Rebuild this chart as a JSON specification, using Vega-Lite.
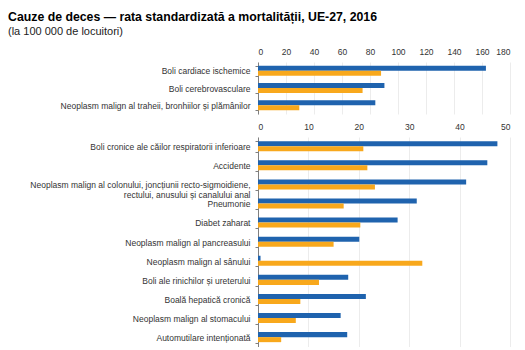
{
  "$schema": "https://vega.github.io/schema/vega-lite/v6.json",
  "padding": {"left": 8, "top": 10, "right": 10, "bottom": 0},
  "title": {
    "text": "Cauze de deces — rata standardizată a mortalității, UE-27, 2016",
    "subtitle": "(la 100 000 de locuitori)",
    "anchor": "start",
    "fontSize": 12.3,
    "fontWeight": "bold",
    "font": "Liberation Sans",
    "color": "#000000",
    "subtitleFontSize": 11,
    "subtitleFont": "Liberation Sans",
    "subtitleColor": "#222222",
    "subtitlePadding": 3,
    "offset": 10
  },
  "datasets": {
    "rows": [
      {"panel": "A", "cause": "Boli cardiace ischemice", "sex": "Bărbați", "value": 162.8},
      {"panel": "A", "cause": "Boli cardiace ischemice", "sex": "Femei", "value": 87.9},
      {"panel": "A", "cause": "Boli cerebrovasculare", "sex": "Bărbați", "value": 90.3},
      {"panel": "A", "cause": "Boli cerebrovasculare", "sex": "Femei", "value": 74.7},
      {"panel": "A", "cause": "Neoplasm malign al traheii, bronhiilor  și plămânilor", "sex": "Bărbați", "value": 83.8},
      {"panel": "A", "cause": "Neoplasm malign al traheii, bronhiilor  și plămânilor", "sex": "Femei", "value": 29.5},
      {"panel": "B", "cause": "Boli cronice ale căilor respiratorii inferioare", "sex": "Bărbați", "value": 47.5},
      {"panel": "B", "cause": "Boli cronice ale căilor respiratorii inferioare", "sex": "Femei", "value": 20.9},
      {"panel": "B", "cause": "Accidente", "sex": "Bărbați", "value": 45.5},
      {"panel": "B", "cause": "Accidente", "sex": "Femei", "value": 21.7},
      {"panel": "B", "cause": "Neoplasm malign al colonului,  joncțiunii recto-sigmoidiene,|rectului, anusului  și canalului  anal", "sex": "Bărbați", "value": 41.3},
      {"panel": "B", "cause": "Neoplasm malign al colonului,  joncțiunii recto-sigmoidiene,|rectului, anusului  și canalului  anal", "sex": "Femei", "value": 23.2},
      {"panel": "B", "cause": "Pneumonie", "sex": "Bărbați", "value": 31.5},
      {"panel": "B", "cause": "Pneumonie", "sex": "Femei", "value": 17.0},
      {"panel": "B", "cause": "Diabet zaharat", "sex": "Bărbați", "value": 27.7},
      {"panel": "B", "cause": "Diabet zaharat", "sex": "Femei", "value": 20.3},
      {"panel": "B", "cause": "Neoplasm malign al pancreasului", "sex": "Bărbați", "value": 20.1},
      {"panel": "B", "cause": "Neoplasm malign al pancreasului", "sex": "Femei", "value": 15.0},
      {"panel": "B", "cause": "Neoplasm malign al sânului", "sex": "Bărbați", "value": 0.5},
      {"panel": "B", "cause": "Neoplasm malign al sânului", "sex": "Femei", "value": 32.6},
      {"panel": "B", "cause": "Boli ale rinichilor  și ureterului", "sex": "Bărbați", "value": 17.9},
      {"panel": "B", "cause": "Boli ale rinichilor  și ureterului", "sex": "Femei", "value": 12.1},
      {"panel": "B", "cause": "Boală hepatică cronică", "sex": "Bărbați", "value": 21.4},
      {"panel": "B", "cause": "Boală hepatică cronică", "sex": "Femei", "value": 8.4},
      {"panel": "B", "cause": "Neoplasm malign al stomacului", "sex": "Bărbați", "value": 16.4},
      {"panel": "B", "cause": "Neoplasm malign al stomacului", "sex": "Femei", "value": 7.5},
      {"panel": "B", "cause": "Automutilare  intenționată", "sex": "Bărbați", "value": 17.7},
      {"panel": "B", "cause": "Automutilare  intenționată", "sex": "Femei", "value": 4.6}
    ]
  },
  "config": {
    "font": "Liberation Sans",
    "view": {"stroke": null},
    "concat": {"spacing": 8},
    "axis": {
      "labelFontSize": 8.5,
      "labelColor": "#333333",
      "titleFontSize": 9,
      "labelFont": "Liberation Sans"
    }
  },
  "vconcat": [
    {
      "width": 252,
      "height": 52,
      "data": {"name": "rows"},
      "transform": [{"filter": "datum.panel === 'A'"}],
      "mark": {"type": "bar"},
      "encoding": {
        "y": {
          "field": "cause", "type": "nominal", "sort": null, "title": null,
          "scale": {"paddingInner": 0.42, "paddingOuter": 0.21},
          "axis": {
            "domainColor": "#7f7f7f", "tickColor": "#7f7f7f", "tickSize": 3,
            "tickBand": "extent", "labelPadding": 5, "minExtent": 250, "maxExtent": 250,
            "labelLimit": 300, "labelExpr": "split(datum.label, '|')"
          }
        },
        "yOffset": {"field": "sex", "type": "nominal", "sort": ["Bărbați", "Femei"]},
        "x": {
          "field": "value", "type": "quantitative", "title": null,
          "scale": {"domain": [0, 180], "nice": false},
          "axis": {
            "orient": "top", "values": [0, 20, 40, 60, 80, 100, 120, 140, 160, 180],
            "domain": false, "ticks": false, "grid": true, "gridColor": "#ececec",
            "labelPadding": 6
          }
        },
        "color": {
          "field": "sex", "type": "nominal", "legend": null,
          "scale": {"domain": ["Bărbați", "Femei"], "range": ["#1f63ae", "#f8a81c"]}
        }
      }
    },
    {
      "width": 252,
      "height": 210,
      "data": {"name": "rows"},
      "transform": [{"filter": "datum.panel === 'B'"}],
      "mark": {"type": "bar"},
      "encoding": {
        "y": {
          "field": "cause", "type": "nominal", "sort": null, "title": null,
          "scale": {"paddingInner": 0.44, "paddingOuter": 0.22},
          "axis": {
            "domainColor": "#7f7f7f", "tickColor": "#7f7f7f", "tickSize": 3,
            "tickBand": "extent", "labelPadding": 5, "minExtent": 250, "maxExtent": 250,
            "labelLimit": 300, "labelExpr": "split(datum.label, '|')", "labelLineHeight": 9.5
          }
        },
        "yOffset": {"field": "sex", "type": "nominal", "sort": ["Bărbați", "Femei"]},
        "x": {
          "field": "value", "type": "quantitative", "title": null,
          "scale": {"domain": [0, 50], "nice": false},
          "axis": {
            "orient": "top", "values": [0, 10, 20, 30, 40, 50],
            "domain": false, "ticks": false, "grid": true, "gridColor": "#ececec",
            "labelPadding": 6
          }
        },
        "color": {
          "field": "sex", "type": "nominal", "legend": null,
          "scale": {"domain": ["Bărbați", "Femei"], "range": ["#1f63ae", "#f8a81c"]}
        }
      }
    }
  ]
}
